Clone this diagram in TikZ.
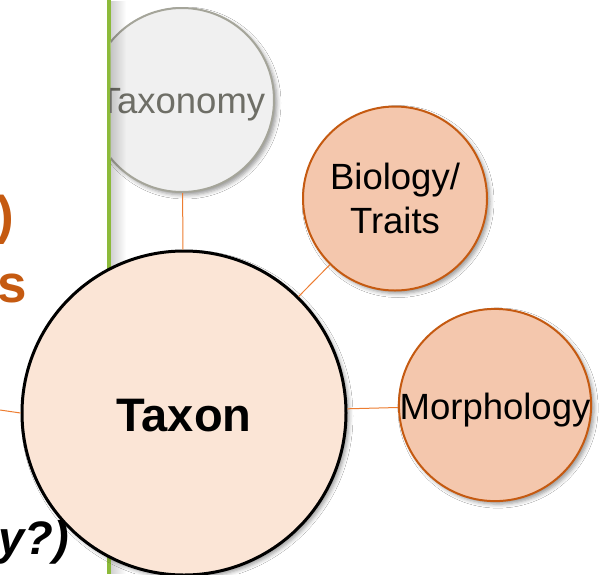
\documentclass[tikz,border=0pt]{standalone}
\usepackage{fontspec}
\setmainfont{Liberation Sans}
\usetikzlibrary{shadows.blur,fadings}
\definecolor{orng}{HTML}{C55A11}
\definecolor{bubfill}{HTML}{F4C7AD}
\definecolor{taxfill}{HTML}{FBE5D6}
\definecolor{grayfill}{HTML}{F0F0F0}
\definecolor{graydraw}{HTML}{A5A59A}
\definecolor{graytext}{HTML}{6E6E66}
\definecolor{conncol}{HTML}{ED7D31}
\definecolor{greenline}{HTML}{8CBA3A}
\begin{document}
\begin{tikzpicture}[x=1pt,y=-1pt,
  shad/.style={blur shadow={shadow xshift=3pt,shadow yshift=-3pt,shadow blur radius=4pt,shadow opacity=40}},
  bubble/.style={circle,inner sep=0pt,minimum size=184pt,draw=orng,line width=2pt,fill=bubfill,
    font=\fontsize{36.5}{43}\selectfont,align=center,shad},
  oneline/.style={text height=27pt,text depth=0pt},
  graybubble/.style={bubble,draw=graydraw,fill=grayfill,text=graytext},
  centre/.style={circle,inner sep=0pt,minimum size=324pt,draw=black,line width=3pt,fill=taxfill,
    font=\fontsize{47}{50}\selectfont\bfseries,text height=36pt,text depth=0pt,shad},
  conn/.style={draw=conncol,line width=1pt},
  frag/.style={inner sep=0pt,anchor=base east}]
\useasboundingbox (0,0) rectangle (602,574);
\fill[white] (0,0) rectangle (602,574);
% panel edge
\draw[greenline,line width=3.2pt] (109,0) -- (109,574);
% clipped taxonomy bubble
\begin{scope}
  \clip (110.6,0) rectangle (602,574);
  \node[graybubble,oneline] (taxonomy) at (182,100) {Taxonomy};
  \fill[black,path fading=east,fill opacity=0.18] (110.6,0) rectangle (126,574);
\end{scope}
\node[bubble] (biology) at (395,198.5) {Biology/\\[1pt]Traits};
\node[bubble,oneline,text height=28pt] (morph) at (495,405) {Morphology};
\node[centre] (taxon) at (184,413) {Taxon};
\coordinate (leftend) at (0,410);
% connectors
\draw[conn] (taxonomy) -- (taxon);
\draw[conn] (taxon) -- (biology);
\draw[conn] (taxon) -- (morph);
\draw[conn] (leftend) -- (taxon.west);
% cut-off text on the left
\node[frag,text=orng,font=\fontsize{53}{60}\selectfont\bfseries] (fragA) at (14,233) {)};
\node[frag,text=orng,font=\fontsize{53}{60}\selectfont\bfseries] (fragB) at (27,302) {s};
\node[frag,text=black,font=\fontsize{47}{50}\selectfont\bfseries\itshape] (fragC) at (69,554) {y?)};
\end{tikzpicture}
\end{document}
